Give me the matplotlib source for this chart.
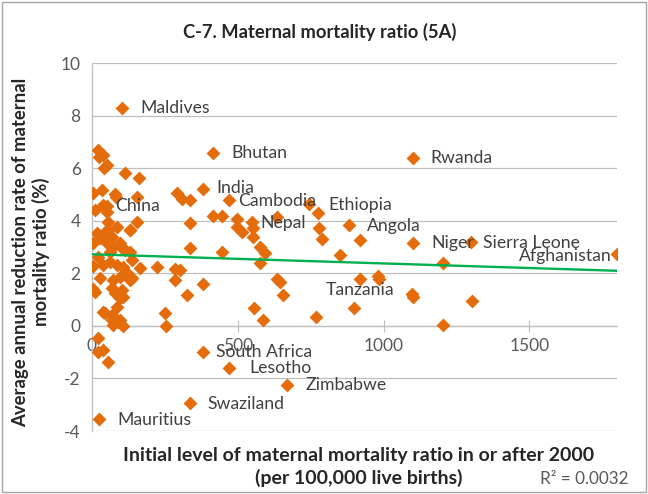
import matplotlib
matplotlib.use("Agg")
import matplotlib.pyplot as plt
from matplotlib.patches import Rectangle
import numpy as np

plt.rcParams['font.family'] = ['Lato', 'DejaVu Sans']

# ---------------- data ----------------
labeled_names = ["Maldives", "Bhutan", "Rwanda", "India", "Cambodia", "Ethiopia",
                 "China", "Nepal", "Angola", "Niger", "Sierra Leone", "Afghanistan",
                 "Tanzania", "South Africa", "Lesotho", "Zimbabwe", "Swaziland", "Mauritius"]
labeled_x = [105, 416, 1100, 380, 470, 743, 40, 548, 880, 1100, 1300, 1800,
             920, 380, 470, 670, 337, 25]
labeled_y = [8.3, 6.6, 6.4, 5.2, 4.8, 4.65, 4.6, 3.95, 3.85, 3.15, 3.2, 2.75,
             1.8, -1.0, -1.6, -2.25, -2.93, -3.55]

other_x = [21, 38, 25, 52, 42, 114, 162, 4, 35, 83, 155, 293, 310, 337,
           11, 52, 52, 56, 155, 131, 18, 45, 69, 87, 97, 337, 416, 447, 496, 499,
           516, 553, 553, 578, 595, 578, 636, 775, 777, 788, 918, 849, 980, 983,
           897, 767, 1097, 1100, 1203, 1203, 1303, 337, 447, 382, 327, 636, 646,
           657, 557, 588, 303, 286, 286, 224, 165, 252, 255, 4, 28, 62, 73, 62,
           104, 131, 21, 4, 38, 62, 87, 107, 138, 28, 73, 97, 131, 11, 69, 80,
           97, 38, 87, 69, 97, 73, 107, 21, 21, 38, 56, 121, 138, 4, 104, 107,
           45, 69, 90, 80, 52, 114, 56, 130]
other_y = [6.70, 6.51, 6.43, 6.13, 6.01, 5.82, 5.63, 5.06, 5.18, 4.91, 4.91, 5.06, 4.83, 4.80,
           4.42, 4.57, 4.34, 3.96, 3.96, 3.65, 3.54, 3.58, 3.39, 3.77, 3.16, 3.92, 4.19, 4.19, 4.07, 3.77,
           3.58, 3.73, 3.39, 3.01, 2.78, 2.40, 4.15, 4.30, 3.73, 3.31, 3.27, 2.70, 1.90, 1.79,
           0.69, 0.34, 1.22, 1.10, 2.40, 0.04, 0.95, 2.97, 2.82, 1.60, 1.18, 1.79, 1.67,
           1.18, 0.69, 0.23, 2.13, 2.17, 1.75, 2.25, 2.21, 0.49, 0.0, 3.16, 3.35, 3.31, 3.01, 2.82,
           2.97, 2.82, 2.63, 2.28, 2.32, 2.44, 2.32, 2.25, 2.51, 1.83, 1.75, 1.87, 1.75, 1.29, 1.45, 1.26,
           1.07, 0.53, 0.72, 0.23, 0.23, 0.04, 0.0, -0.46, -0.99, -0.91, -1.37, 2.02, 1.83, 1.41, 1.37, 1.10,
           0.49, 0.42, 0.15, 5.02, 3.16, 2.89, 3.65, 3.65]

trend_intercept = 2.73
trend_slope = -0.00035
r_squared_text = "R² = 0.0032"

x_ticks = [0, 500, 1000, 1500]
y_ticks = [-4, -2, 0, 2, 4, 6, 8, 10]

title = "C-7. Maternal mortality ratio (5A)"
x_label_lines = ["Initial level of maternal mortality ratio in or after 2000",
                 "(per 100,000 live births)"]
y_label = "Average annual reduction rate of maternal\nmortality ratio (%)"

# label placement style: (dx px, dy px, ha)
label_style = {
    "Maldives": (18, 0, "left"), "Bhutan": (18, 0, "left"), "Rwanda": (18, 0, "left"),
    "India": (14, 1, "left"), "Cambodia": (9, -1, "left"), "Ethiopia": (20, -1, "left"),
    "China": (12, -1, "left"), "Nepal": (9, -1, "left"), "Angola": (18, -1, "left"),
    "Niger": (19, 0, "left"), "Sierra Leone": (12, -1, "left"), "Afghanistan": (-5, -2, "right"),
    "Tanzania": (0, -11, "center"), "South Africa": (13, 0, "left"), "Lesotho": (20, 0, "left"),
    "Zimbabwe": (18, 0, "left"), "Swaziland": (17, -1, "left"), "Mauritius": (18, -1, "left"),
}

ORANGE = "#E46C0A"
GREEN = "#00B050"
GRID = "#BFBFBF"
TXT = "#404040"

fig = plt.figure(figsize=(6.48, 4.94), dpi=100)
ax = fig.add_axes([91.8 / 648, 1 - 431 / 494, (617 - 91.8) / 648, (431 - 63.3) / 494])

ax.set_xlim(0, 1800)
ax.set_ylim(-4, 10)
ax.set_yticks(y_ticks)
ax.set_xticks(x_ticks)
ax.set_yticklabels([str(v) for v in y_ticks])
ax.set_xticklabels([str(v) for v in x_ticks])

ax.grid(axis='y', color=GRID, linewidth=0.9)
ax.set_axisbelow(True)
for s in ['top', 'right']:
    ax.spines[s].set_visible(False)
ax.spines['bottom'].set_position(('data', 0))
ax.spines['bottom'].set_color(GRID)
ax.spines['left'].set_color(GRID)
ax.spines['bottom'].set_linewidth(0.9)
ax.spines['left'].set_linewidth(0.9)
ax.tick_params(axis='y', length=0, pad=8, labelsize=12.5, labelcolor="#595959")
ax.tick_params(axis='x', direction='inout', length=8, color=GRID, pad=5,
               labelsize=12.5, labelcolor="#595959")

all_x = other_x + labeled_x
all_y = other_y + labeled_y
ax.scatter(all_x, all_y, marker='D', s=50, color=ORANGE, linewidths=0, zorder=3)

tx = np.array([0, 1800])
ax.plot(tx, trend_intercept + trend_slope * tx, color=GREEN, linewidth=1.7, zorder=4)

for name, x, y in zip(labeled_names, labeled_x, labeled_y):
    dx, dy, ha = label_style[name]
    ax.annotate(name, (x, y), xytext=(dx, dy), textcoords='offset pixels',
                ha=ha, va='center', fontsize=12.7, color=TXT, zorder=5)

fig.text(320 / 648, 1 - 32 / 494, title, ha='center', va='center',
         fontsize=13.2, fontweight='bold', color="#262626")
fig.text(31 / 648, 1 - 252 / 494, y_label, rotation=90, ha='center', va='center',
         multialignment='center', fontsize=13.3, fontweight='bold', color="#262626",
         linespacing=1.15)
fig.text(359 / 648, 1 - 455 / 494, x_label_lines[0], ha='center', va='center',
         fontsize=14, fontweight='bold', color="#262626")
fig.text(359 / 648, 1 - 478 / 494, x_label_lines[1], ha='center', va='center',
         fontsize=14, fontweight='bold', color="#262626")
fig.text(628 / 648, 1 - 479 / 494, r_squared_text, ha='right', va='center',
         fontsize=12.3, color="#595959")

fig.patches.append(Rectangle((2 / 648, 2 / 494), 644 / 648, 490 / 494,
                             transform=fig.transFigure, fill=False,
                             edgecolor="#A6A6A6", linewidth=1.0))

fig.savefig("out.png", dpi=100)
